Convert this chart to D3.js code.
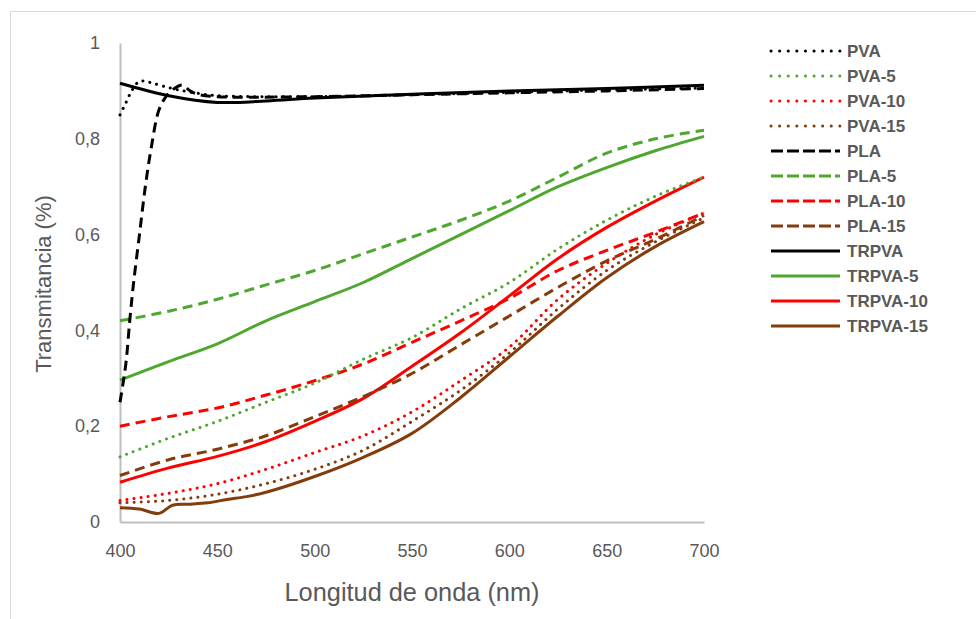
<!DOCTYPE html>
<html>
<head>
<meta charset="utf-8">
<script src="https://cdn.jsdelivr.net/npm/d3@7"></script>
<style>
  body { margin: 0; background: #fff; }
  svg { display: block; font-family: "Liberation Sans", Arial, sans-serif; }
</style>
</head>
<body>
<script>
const width = 976;
const height = 619;
const marginTop = 43;
const marginLeft = 120;
const plotRight = 704;
const plotBottom = 522;

// wavelengths (nm) and transmittance values
const wl = [400, 425, 450, 475, 500, 525, 550, 575, 600, 625, 650, 675, 700];

const pvaX = [400, 403, 406, 410, 415, 422, 430, 440, 450, 500, 550, 600, 650, 700];
const pva = [0.85, 0.875, 0.90, 0.92, 0.918, 0.91, 0.902, 0.895, 0.89, 0.888, 0.892, 0.897, 0.902, 0.906];
const pva5 = [0.136, 0.175, 0.21, 0.25, 0.29, 0.34, 0.385, 0.445, 0.50, 0.57, 0.63, 0.68, 0.72];
const pva10 = [0.045, 0.06, 0.08, 0.11, 0.145, 0.18, 0.23, 0.295, 0.365, 0.465, 0.54, 0.60, 0.645];
const pva15 = [0.04, 0.045, 0.058, 0.08, 0.11, 0.15, 0.21, 0.275, 0.353, 0.445, 0.525, 0.585, 0.635];

const plaX = [400, 403, 405, 407, 410, 413, 416, 420, 424, 428, 432, 436, 440, 450, 500, 550, 600, 650, 700];
const pla = [0.25, 0.33, 0.42, 0.50, 0.60, 0.70, 0.78, 0.86, 0.89, 0.905, 0.912, 0.90, 0.893, 0.888, 0.888, 0.892, 0.896, 0.90, 0.905];
const pla5 = [0.42, 0.44, 0.465, 0.495, 0.525, 0.56, 0.595, 0.63, 0.67, 0.72, 0.77, 0.80, 0.818];
const pla10 = [0.20, 0.22, 0.238, 0.265, 0.295, 0.33, 0.375, 0.42, 0.467, 0.525, 0.567, 0.605, 0.645];
const pla15 = [0.097, 0.13, 0.152, 0.18, 0.22, 0.262, 0.31, 0.37, 0.43, 0.49, 0.545, 0.59, 0.64];

const trX = [400, 425, 450, 475, 500, 550, 600, 650, 700];
const trpva = [0.916, 0.89, 0.876, 0.879, 0.885, 0.893, 0.90, 0.905, 0.912];
const trpva5 = [0.296, 0.335, 0.372, 0.42, 0.46, 0.50, 0.55, 0.60, 0.65, 0.70, 0.74, 0.775, 0.805];
const trpva10 = [0.083, 0.113, 0.137, 0.168, 0.21, 0.258, 0.325, 0.395, 0.472, 0.55, 0.615, 0.67, 0.72];
const tr15X = [400, 410, 420, 427, 435, 445, 455, 465, 475, 500, 525, 550, 575, 600, 625, 650, 675, 700];
const trpva15 = [0.03, 0.027, 0.018, 0.035, 0.037, 0.04, 0.047, 0.053, 0.062, 0.095, 0.135, 0.185, 0.26, 0.345, 0.43, 0.51, 0.575, 0.627];

const yTicks = [0, 0.2, 0.4, 0.6, 0.8, 1];
const xTicks = [400, 450, 500, 550, 600, 650, 700];

const black = "#000000", green = "#4ea72e", red = "#ff0000", brown = "#843c0c";

const series = [
  { name: "PVA", xs: pvaX, ys: pva, color: black, style: "dot" },
  { name: "PVA-5", xs: wl, ys: pva5, color: green, style: "dot" },
  { name: "PVA-10", xs: wl, ys: pva10, color: red, style: "dot" },
  { name: "PVA-15", xs: wl, ys: pva15, color: brown, style: "dot" },
  { name: "PLA", xs: plaX, ys: pla, color: black, style: "dash" },
  { name: "PLA-5", xs: wl, ys: pla5, color: green, style: "dash" },
  { name: "PLA-10", xs: wl, ys: pla10, color: red, style: "dash" },
  { name: "PLA-15", xs: wl, ys: pla15, color: brown, style: "dash" },
  { name: "TRPVA", xs: trX, ys: trpva, color: black, style: "solid" },
  { name: "TRPVA-5", xs: wl, ys: trpva5, color: green, style: "solid" },
  { name: "TRPVA-10", xs: wl, ys: trpva10, color: red, style: "solid" },
  { name: "TRPVA-15", xs: tr15X, ys: trpva15, color: brown, style: "solid" }
];

const dashFor = s => s === "dot" ? "0.1 7" : s === "dash" ? "10 6" : null;

const svg = d3.select("body").append("svg")
  .attr("width", width)
  .attr("height", height);

// outer chart border
svg.append("rect")
  .attr("x", 10.5).attr("y", 11.5)
  .attr("width", 980).attr("height", 620)
  .attr("fill", "none")
  .attr("stroke", "#d9d9d9");

const x = d3.scaleLinear().domain([400, 700]).range([marginLeft, plotRight]);
const y = d3.scaleLinear().domain([0, 1]).range([plotBottom, marginTop]);

const fmt = d => d === 0 ? "0" : d === 1 ? "1" : d3.format(".1f")(d).replace(".", ",");

const yAxis = svg.append("g")
  .attr("transform", `translate(${marginLeft},0)`)
  .call(d3.axisLeft(y).tickValues(yTicks).tickFormat(fmt).tickSize(0).tickPadding(20));
yAxis.select(".domain").attr("stroke", "#bfbfbf").attr("stroke-width", 2);
yAxis.selectAll("text").attr("font-size", 18).attr("fill", "#595959");

const xAxis = svg.append("g")
  .attr("transform", `translate(0,${plotBottom})`)
  .call(d3.axisBottom(x).tickValues(xTicks).tickSize(0).tickPadding(22));
xAxis.select(".domain").attr("stroke", "#bfbfbf").attr("stroke-width", 2);
xAxis.selectAll("text").attr("font-size", 18).attr("fill", "#595959");

const line = d3.line()
  .x(d => x(d[0]))
  .y(d => y(d[1]))
  .curve(d3.curveCatmullRom.alpha(0.5));

svg.append("g").selectAll("path")
  .data(series.slice().reverse())
  .join("path")
    .attr("d", s => line(s.xs.map((v, i) => [v, s.ys[i]])))
    .attr("fill", "none")
    .attr("stroke", s => s.color)
    .attr("stroke-width", 3)
    .attr("stroke-linecap", s => s.style === "dot" ? "round" : "butt")
    .attr("stroke-dasharray", s => dashFor(s.style));

// legend
const legend = svg.append("g");
const rows = legend.selectAll("g")
  .data(series)
  .join("g")
    .attr("transform", (d, i) => `translate(770,${51 + i * 25})`);
rows.append("line")
  .attr("x1", 1).attr("x2", 70)
  .attr("stroke", d => d.color)
  .attr("stroke-width", 3)
  .attr("stroke-linecap", d => d.style === "dot" ? "round" : "butt")
  .attr("stroke-dasharray", d => dashFor(d.style) && (d.style === "dot" ? "0.1 8.5" : "12 4"));
rows.append("text")
  .attr("x", 77).attr("dy", "0.35em")
  .attr("font-size", 17)
  .attr("font-weight", "bold")
  .attr("fill", "#595959")
  .text(d => d.name);

// axis titles
svg.append("text")
  .attr("transform", `translate(51,284) rotate(-90)`)
  .attr("text-anchor", "middle")
  .attr("font-size", 22)
  .attr("fill", "#595959")
  .text("Transmitancia (%)");

svg.append("text")
  .attr("x", 412).attr("y", 601)
  .attr("text-anchor", "middle")
  .attr("font-size", 25)
  .attr("textLength", 255)
  .attr("lengthAdjust", "spacingAndGlyphs")
  .attr("fill", "#595959")
  .text("Longitud de onda (nm)");
</script>
</body>
</html>
